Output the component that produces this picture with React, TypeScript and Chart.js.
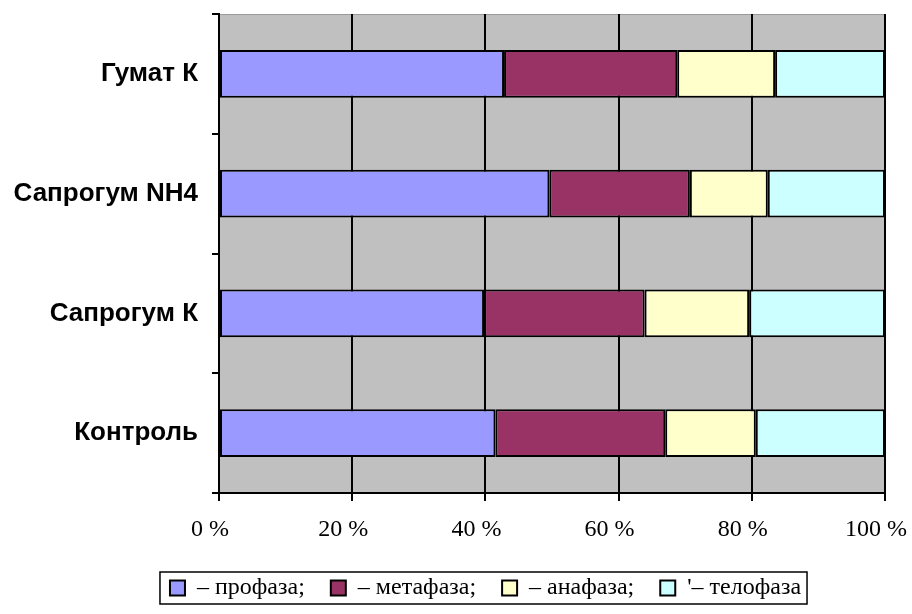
import React, { useEffect, useRef } from 'react';
import { Chart, registerables } from 'chart.js';

Chart.register(...registerables);

const categories = ['Гумат К', 'Сапрогум NH4', 'Сапрогум К', 'Контроль'];
const phaseLabels = ['– профаза;', '– метафаза;', '– анафаза;', "'– телофаза"];
const prophase = [42.8, 49.6, 39.8, 41.5];
const metaphase = [26.0, 21.1, 24.1, 25.5];
const anaphase = [14.7, 11.7, 15.7, 13.6];
const telophase = [16.5, 17.6, 20.4, 19.4];
const phaseColors = ['#9999FF', '#993366', '#FFFFCC', '#CCFFFF'];
const xMin = 0;
const xMax = 100;
const xStep = 20;

const plotBackground = {
  id: 'plotBackground',
  beforeDraw(chart: any) {
    const { ctx, chartArea } = chart;
    if (!chartArea) return;
    ctx.save();
    ctx.fillStyle = '#C0C0C0';
    ctx.fillRect(chartArea.left, chartArea.top, chartArea.right - chartArea.left, chartArea.bottom - chartArea.top);
    ctx.strokeStyle = '#9a9a9a';
    ctx.lineWidth = 1;
    ctx.beginPath();
    ctx.moveTo(chartArea.left, chartArea.top + 0.5);
    ctx.lineTo(chartArea.right, chartArea.top + 0.5);
    ctx.stroke();
    ctx.restore();
  },
};

const legendShift = {
  id: 'legendShift',
  afterLayout(chart: any) {
    if (chart.legend) {
      chart.legend.left = 86;
    }
  },
};

const legendFrame = {
  id: 'legendFrame',
  afterDraw(chart: any) {
    const lg = chart.legend;
    if (!lg || !lg.legendHitBoxes || !lg.legendHitBoxes.length) return;
    const boxes = lg.legendHitBoxes;
    let l = Infinity;
    let r = -Infinity;
    boxes.forEach((h: any) => {
      l = Math.min(l, h.left);
      r = Math.max(r, h.left + h.width);
    });
    const cy = boxes[0].top + boxes[0].height / 2;
    const { ctx } = chart;
    ctx.save();
    ctx.strokeStyle = '#000';
    ctx.lineWidth = 1.5;
    ctx.strokeRect(l - 10, cy - 16, r - l + 16, 32);
    ctx.restore();
  },
};

const zeroPadding = (s: any) => {
  s.paddingLeft = 0;
  s.paddingRight = 0;
  s.paddingTop = 0;
  s.paddingBottom = 0;
};

export default function App() {
  const ref = useRef<HTMLCanvasElement>(null);

  useEffect(() => {
    if (!ref.current) return;
    const series = [prophase, metaphase, anaphase, telophase];
    const chart = new Chart(ref.current, {
      type: 'bar',
      data: {
        labels: categories,
        datasets: series.map((d, i) => ({
          label: phaseLabels[i],
          data: d,
          backgroundColor: phaseColors[i],
          borderColor: '#000',
          borderWidth: 2,
          borderSkipped: false,
          categoryPercentage: 0.4,
          barPercentage: 1,
        })),
      },
      options: {
        indexAxis: 'y',
        responsive: false,
        animation: false,
        layout: { padding: { left: 0, right: 27, top: 14, bottom: 4 } },
        plugins: {
          legend: {
            position: 'bottom',
            labels: {
              boxWidth: 15,
              boxHeight: 15,
              padding: 26,
              color: '#000',
              font: { family: '"Liberation Serif", "Times New Roman", serif', size: 24 },
            },
          },
          tooltip: { enabled: false },
        },
        scales: {
          x: {
            stacked: true,
            min: xMin,
            max: xMax,
            afterFit: (s: any) => {
              s.height = 57;
              zeroPadding(s);
            },
            ticks: {
              stepSize: xStep,
              padding: 14,
              labelOffset: -9,
              color: '#000',
              font: { family: '"Liberation Serif", "Times New Roman", serif', size: 24 },
              callback: (v: any) => v + ' %',
            },
            grid: {
              color: '#000',
              lineWidth: 2,
              drawOnChartArea: true,
              tickLength: 8,
            },
            border: { color: '#000', width: 2 },
          },
          y: {
            stacked: true,
            afterFit: (s: any) => {
              s.width = 219;
              zeroPadding(s);
            },
            ticks: {
              padding: 14,
              color: '#000',
              font: { family: '"Liberation Sans", Arial, sans-serif', size: 26, weight: 'bold' },
            },
            grid: {
              offset: true,
              drawOnChartArea: false,
              color: '#000',
              lineWidth: 2,
              tickLength: 7,
            },
            border: { color: '#000', width: 2 },
          },
        },
      },
      plugins: [plotBackground, legendShift, legendFrame],
    } as any);
    return () => chart.destroy();
  }, []);

  return (
    <div style={{ position: 'absolute', left: 0, top: 0, width: 912, height: 614, background: '#fff' }}>
      <canvas ref={ref} width={912} height={614} style={{ width: 912, height: 614, display: 'block' }} />
    </div>
  );
}
